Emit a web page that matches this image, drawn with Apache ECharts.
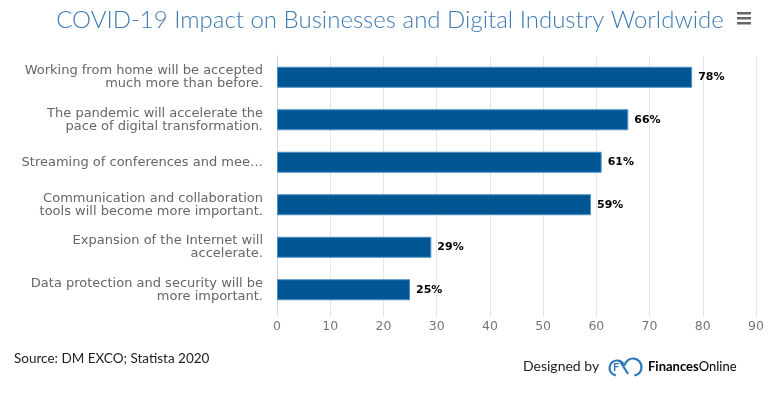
<!DOCTYPE html>
<html><head><meta charset="utf-8">
<script src="https://cdn.jsdelivr.net/npm/echarts@6/dist/echarts.min.js"></script>
<style>html,body{margin:0;padding:0;background:#fff}#c{width:768px;height:394px}</style>
</head><body><div id="c"></div>
<script>
const categories = [
  "Working from home will be accepted\nmuch more than before.",
  "The pandemic will accelerate the\npace of digital transformation.",
  "Streaming of conferences and mee…",
  "Communication and collaboration\ntools will become more important.",
  "Expansion of the Internet will\naccelerate.",
  "Data protection and security will be\nmore important."
];
const values = [78, 66, 61, 59, 29, 25];
const xTicks = [0, 10, 20, 30, 40, 50, 60, 70, 80, 90];

const chart = echarts.init(document.getElementById('c'), null, {renderer: 'canvas'});
chart.setOption({
  animation: false,
  title: {
    text: 'COVID-19 Impact on Businesses and Digital Industry Worldwide',
    left: 385, top: 3, textAlign: 'center',
    textStyle: {fontFamily: 'Lato', fontWeight: 300, fontSize: 24, color: '#3d7ab6'}
  },
  grid: {left: 277, right: 12, top: 56, bottom: 83},
  xAxis: {
    type: 'value', min: xTicks[0], max: xTicks[xTicks.length - 1], interval: 10,
    axisLine: {show: false},
    axisTick: {show: true, length: 6, lineStyle: {color: '#e6e6e6'}},
    splitLine: {show: true, lineStyle: {color: '#e6e6e6'}},
    axisLabel: {fontFamily: 'DejaVu Sans', fontSize: 12.5, color: '#777', margin: 9}
  },
  yAxis: {
    type: 'category', data: categories, inverse: true,
    axisLine: {show: true, lineStyle: {color: '#ccd6eb'}},
    axisTick: {show: false},
    axisLabel: {fontFamily: 'DejaVu Sans', fontSize: 13, color: '#666', lineHeight: 13, margin: 14, align: 'right'}
  },
  series: [{
    type: 'bar', data: values, barWidth: 21,
    itemStyle: {color: '#005693', borderColor: '#4f8fc4', borderWidth: 1},
    label: {show: true, position: 'right', distance: 6, formatter: '{c}%',
      fontFamily: 'DejaVu Sans', fontWeight: 'bold', fontSize: 11, color: '#000'}
  }],
  graphic: [
    {type: 'rect', left: 737, top: 12, shape: {width: 14, height: 2.5}, style: {fill: '#666'}},
    {type: 'rect', left: 737, top: 17, shape: {width: 14, height: 2.5}, style: {fill: '#666'}},
    {type: 'rect', left: 737, top: 22, shape: {width: 14, height: 2.5}, style: {fill: '#666'}},
    {type: 'text', left: 14, top: 352, style: {text: 'Source: DM EXCO; Statista 2020', font: '13.5px Lato', fill: '#222'}},
    {type: 'text', left: 523, top: 359, style: {text: 'Designed by', font: '14px Lato', fill: '#222'}},
    {type: 'arc', shape: {cx: 617, cy: 368, r: 7.5, startAngle: Math.PI * 0.55, endAngle: Math.PI * 1.85}, style: {stroke: '#2a78b8', lineWidth: 2.2, fill: null}},
    {type: 'arc', shape: {cx: 633, cy: 367, r: 8.5, startAngle: Math.PI * 1.05, endAngle: Math.PI * 2.45}, style: {stroke: '#2a78b8', lineWidth: 2.2, fill: null}},
    {type: 'line', shape: {x1: 620, y1: 361, x2: 628, y2: 374}, style: {stroke: '#2a78b8', lineWidth: 2.2}},
    {type: 'text', left: 613, top: 362, style: {text: 'F', font: 'bold 11px Lato', fill: '#2a78b8'}},
    {type: 'text', left: 648, top: 360, style: {
      rich: {a: {fontFamily: 'Lato', fontWeight: 'bold', fontSize: 13, color: '#333'}, b: {fontFamily: 'Lato', fontSize: 13, color: '#444'}},
      text: '{a|Finances}{b|Online}'}}
  ]
});
</script></body></html>
